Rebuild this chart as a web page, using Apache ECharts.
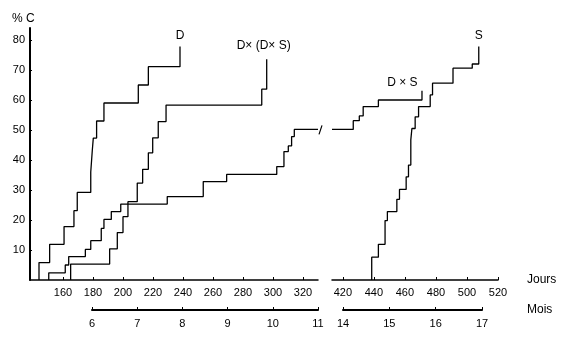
<!DOCTYPE html>
<html><head><meta charset="utf-8">
<script src="https://cdn.jsdelivr.net/npm/echarts@6/dist/echarts.min.js"></script>
<style>html,body{margin:0;padding:0;background:#fff}#c{width:568px;height:338px}</style>
</head><body><div id="c"></div>
<script>
// ---- data (days, cumulative % C) ----
const dDays  = [144, 144, 151.1, 160.7, 167.3, 169.5, 178.5, 179.5, 180.2, 182.4, 187.3, 210.2, 216.9, 238];
const dVals  = [0, 5.8, 11.9, 17.8, 23.1, 29.2, 36, 43, 47.3, 53, 59, 65, 71.1, 77.8];

const ddsDays = [165.1, 165.1, 191.1, 196.2, 200, 203.3, 209.5, 213.1, 216.9, 219.8, 223.5, 228.7, 292.5, 295.8];
const ddsVals = [0, 5.3, 10.4, 15.8, 21.1, 26.1, 32.3, 36.9, 42.4, 47.4, 52.8, 58.3, 63.6, 73.6];

const dsLeftDays = [150.5, 150.5, 161.5, 163.8, 174.9, 178.5, 185.5, 187.3, 192.2, 198.5, 229.5, 253.5, 269.1, 302.5, 307.3, 310.2, 312.4, 314.2, 330];
const dsLeftVals = [0, 2.4, 5, 7.8, 10.2, 13.1, 17.2, 20.2, 22.8, 25.3, 27.8, 32.8, 35.2, 37.8, 42.8, 44.7, 47.8, 50.2, 50.2];
const dsRightDays = [413, 426.7, 430.6, 433.1, 442.9, 471];
const dsRightVals = [50.2, 53.1, 54.7, 57.8, 60, 63.1];

const sDays = [438.6, 438.6, 442.9, 447.2, 448.7, 454.8, 456.5, 460.8, 462.3, 463.8, 464.5, 466.6, 468.8, 476.3, 477.8, 491, 503.4, 507.6];
const sVals = [0, 7.6, 11.9, 19.8, 22.8, 26.9, 30.2, 34.4, 38.3, 46.7, 50.5, 54.4, 57.8, 61.7, 65.6, 70.6, 72, 77.8];

// ---- tick labels ----
const leftDayTicks  = [160, 180, 200, 220, 240, 260, 280, 300, 320];
const rightDayTicks = [420, 440, 460, 480, 500, 520];
const yTicks = [10, 20, 30, 40, 50, 60, 70, 80];
const leftMonths  = [6, 11];
const rightMonths = [14, 17];

const font = '"Liberation Sans", Arial, Helvetica, sans-serif';
const pairs = (xs, ys) => xs.map((x, i) => [x, ys[i]]);
const last = (xs, ys) => [xs[xs.length - 1], ys[ys.length - 1]];

function tag(coord, text, position, distance, offset) {
  return {
    symbol: 'circle', symbolSize: 1, silent: true,
    data: [{ coord: coord, itemStyle: { color: 'rgba(0,0,0,0)' },
      label: { show: true, formatter: text, position: position, distance: distance,
               offset: offset || [0, 0], color: '#000', fontSize: 12, fontFamily: font } }]
  };
}
function stepSeries(xi, xs, ys, mp) {
  const s = { type: 'line', step: 'end', xAxisIndex: xi, yAxisIndex: xi, showSymbol: false,
    data: pairs(xs, ys), lineStyle: { color: '#000', width: 1.3 }, silent: true };
  if (mp) s.markPoint = mp;
  return s;
}
const lab = { color: '#000', fontSize: 11, fontFamily: font };

const chart = echarts.init(document.getElementById('c'), null, { renderer: 'canvas' });
chart.setOption({
  animation: false,
  backgroundColor: '#fff',
  title: { text: '% C', left: 7, top: 8, textStyle: { fontSize: 12, fontWeight: 'normal', color: '#000', fontFamily: font } },
  grid: [
    { left: 30, top: 28, width: 288, height: 252 },
    { left: 332, top: 28, width: 166, height: 252 },
    { left: 92, top: 309, width: 226, height: 1 },
    { left: 343, top: 309, width: 139, height: 1 }
  ],
  xAxis: [
    { type: 'value', gridIndex: 0, min: 138, max: 330, splitLine: { show: false },
      axisLine: { lineStyle: { color: '#000', width: 1.5 } },
      axisTick: { inside: true, length: 3, customValues: leftDayTicks, lineStyle: { color: '#000' } },
      axisLabel: Object.assign({ customValues: leftDayTicks, margin: 7 }, lab) },
    { type: 'value', gridIndex: 1, min: 413, max: 520, splitLine: { show: false },
      name: 'Jours', nameLocation: 'end', nameGap: 29,
      nameTextStyle: { color: '#000', fontSize: 12, fontFamily: font, padding: [6, 0, 0, 0] },
      axisLine: { lineStyle: { color: '#000', width: 1.5 } },
      axisTick: { inside: true, length: 3, customValues: rightDayTicks, lineStyle: { color: '#000' } },
      axisLabel: Object.assign({ customValues: rightDayTicks, margin: 7 }, lab) },
    { type: 'value', gridIndex: 2, min: leftMonths[0], max: leftMonths[1], interval: 1, splitLine: { show: false },
      axisLine: { lineStyle: { color: '#000', width: 2 } },
      axisTick: { inside: true, length: 3, lineStyle: { color: '#000' } },
      axisLabel: Object.assign({ margin: 8 }, lab) },
    { type: 'value', gridIndex: 3, min: rightMonths[0], max: rightMonths[1], interval: 1, splitLine: { show: false },
      name: 'Mois', nameLocation: 'end', nameGap: 45,
      nameTextStyle: { color: '#000', fontSize: 12, fontFamily: font },
      axisLine: { lineStyle: { color: '#000', width: 2 } },
      axisTick: { inside: true, length: 3, lineStyle: { color: '#000' } },
      axisLabel: Object.assign({ margin: 8 }, lab) }
  ],
  yAxis: [
    { type: 'value', gridIndex: 0, min: 0, max: 84, splitLine: { show: false },
      axisLine: { show: true, lineStyle: { color: '#000', width: 2 } },
      axisTick: { show: true, inside: true, length: 2, customValues: yTicks, lineStyle: { color: '#000' } },
      axisLabel: Object.assign({ customValues: yTicks, margin: 5 }, lab) },
    { type: 'value', gridIndex: 1, min: 0, max: 84, show: false },
    { type: 'value', gridIndex: 2, min: 0, max: 1, show: false },
    { type: 'value', gridIndex: 3, min: 0, max: 1, show: false }
  ],
  series: [
    stepSeries(0, dDays, dVals, tag(last(dDays, dVals), 'D', 'top', 4)),
    stepSeries(0, ddsDays, ddsVals, tag(last(ddsDays, ddsVals), 'D× (D× S)', 'top', 7, [-3, 0])),
    stepSeries(0, dsLeftDays, dsLeftVals),
    stepSeries(1, dsRightDays, dsRightVals, tag(last(dsRightDays, dsRightVals), 'D × S', 'left', 4, [0, -8])),
    stepSeries(1, sDays, sVals, tag(last(sDays, sVals), 'S', 'top', 4))
  ]
});

// axis-break slash at the end of the left panel's D × S curve
const p = chart.convertToPixel({ gridIndex: 0 }, last(dsLeftDays, dsLeftVals));
chart.setOption({
  graphic: [{ type: 'line', silent: true,
    shape: { x1: p[0] + 1, y1: p[1] + 5, x2: p[0] + 4, y2: p[1] - 4 },
    style: { stroke: '#000', lineWidth: 1.2 } }]
});
</script>
</body></html>
